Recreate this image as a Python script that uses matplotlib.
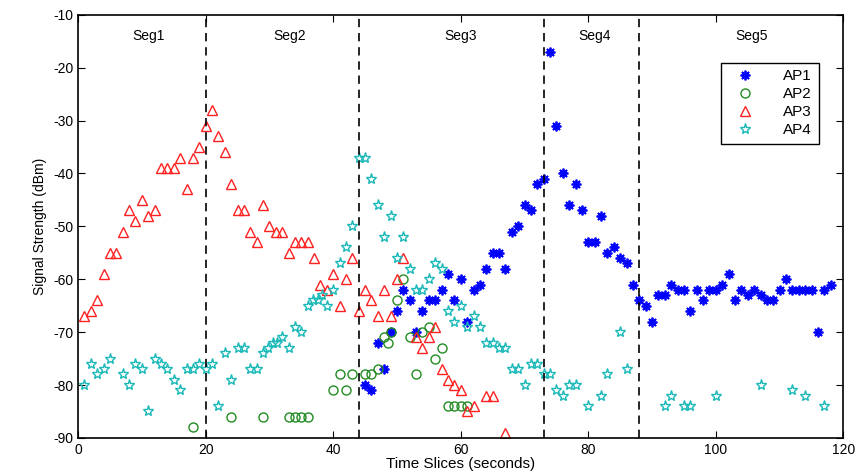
import matplotlib
matplotlib.use("Agg")
import matplotlib.pyplot as plt

plt.rcParams['font.family'] = ['Liberation Sans', 'DejaVu Sans']
plt.rcParams['axes.unicode_minus'] = False

# AP1 (blue asterisks)
ap1_x = [45, 46, 47, 48, 49, 50, 51, 52, 53, 54, 55, 56, 57, 58, 59, 60, 61, 62, 63, 64,
         65, 66, 67, 68, 69, 70, 71, 72, 73, 74, 75, 76, 77, 78, 79, 80, 81, 82, 83, 84,
         85, 86, 87, 88, 89, 90, 91, 92, 93, 94, 95, 96, 97, 98, 99, 100, 101, 102, 103, 104,
         105, 106, 107, 108, 109, 110, 111, 112, 113, 114, 115, 116, 117, 118]
ap1_y = [-80, -81, -72, -77, -70, -66, -62, -64, -70, -66, -64, -64, -62, -59, -64, -60, -68, -62, -61, -58,
         -55, -55, -58, -51, -50, -46, -47, -42, -41, -17, -31, -40, -46, -42, -47, -53, -53, -48, -55, -54,
         -56, -57, -61, -64, -65, -68, -63, -63, -61, -62, -62, -66, -62, -64, -62, -62, -61, -59, -64, -62,
         -63, -62, -63, -64, -64, -62, -60, -62, -62, -62, -62, -70, -62, -61]

# AP2 (green circles)
ap2_x = [18, 24, 29, 33, 34, 35, 36, 40, 41, 42, 43, 45, 46, 47, 48, 48.6, 49, 50, 51, 52,
         53, 54, 55, 56, 57, 58, 59, 60, 61]
ap2_y = [-88, -86, -86, -86, -86, -86, -86, -81, -78, -81, -78, -78, -78, -77, -71, -72, -70, -64, -60, -71,
         -78, -70, -69, -75, -73, -84, -84, -84, -84]

# AP3 (red triangles)
ap3_x = [1, 2, 3, 4, 5, 6, 7, 8, 9, 10, 11, 12, 13, 14, 15, 16, 17, 18, 19, 20,
         21, 22, 23, 24, 25, 26, 27, 28, 29, 30, 31, 32, 33, 34, 35, 36, 37, 38, 39, 40,
         41, 42, 43, 44, 45, 46, 47, 48, 49, 50, 51, 53, 54, 55, 56, 57, 58, 59, 60, 61,
         62, 64, 65, 67]
ap3_y = [-67, -66, -64, -59, -55, -55, -51, -47, -49, -45, -48, -47, -39, -39, -39, -37, -43, -37, -35, -31,
         -28, -33, -36, -42, -47, -47, -51, -53, -46, -50, -51, -51, -55, -53, -53, -53, -56, -61, -62, -59,
         -65, -60, -56, -66, -62, -64, -67, -62, -67, -60, -56, -71, -73, -71, -69, -77, -79, -80, -81, -85,
         -84, -82, -82, -89]

# AP4 (cyan stars)
ap4_x = [1, 2, 3, 4, 5, 7, 8, 9, 10, 11, 12, 13, 14, 15, 16, 17, 18, 19, 20, 21,
         22, 23, 24, 25, 26, 27, 28, 29, 29.8, 30.6, 31.2, 32, 33, 34, 35, 36, 36.8, 37.6, 38.2, 39,
         40, 41, 42, 43, 44, 45, 46, 47, 48, 49, 50, 51, 52, 53, 54, 55, 56, 57, 58, 59,
         60, 61, 62, 63, 64, 65, 66, 67, 68, 69, 70, 71, 72, 73, 74, 75, 76, 77, 78, 80,
         82, 83, 85, 86, 92, 93, 95, 96, 100, 107, 112, 114, 117]
ap4_y = [-80, -76, -78, -77, -75, -78, -80, -76, -77, -85, -75, -76, -77, -79, -81, -77, -77, -76, -77, -76,
         -84, -74, -79, -73, -73, -77, -77, -74, -73, -72, -72, -71, -73, -69, -70, -65, -64, -64, -63, -65,
         -62, -57, -54, -50, -37, -37, -41, -46, -52, -48, -56, -52, -58, -62, -62, -60, -57, -58, -66, -68,
         -65, -69, -67, -69, -72, -72, -73, -73, -77, -77, -80, -76, -76, -78, -78, -81, -82, -80, -80, -84,
         -82, -78, -70, -77, -84, -82, -84, -84, -82, -80, -81, -82, -84]

seg_bounds = [20, 44, 73, 88]
seg_names = ['Seg1', 'Seg2', 'Seg3', 'Seg4', 'Seg5']
seg_pos = [11, 33.2, 60, 81, 105.6]

fig = plt.figure(figsize=(8.58, 4.76), dpi=100)
ax = fig.add_axes([0.091, 0.080, 0.892, 0.889])

ax.plot(ap1_x, ap1_y, linestyle='none', marker=(8, 2, 0), ms=7, mew=1.3,
        color='#0000ff', label='AP1')
ax.plot(ap2_x, ap2_y, linestyle='none', marker='o', ms=6.5, mew=1.0, mfc='none',
        color='#228b22', label='AP2')
ax.plot(ap3_x, ap3_y, linestyle='none', marker='^', ms=7, mew=1.0, mfc='none',
        color='#ff2020', label='AP3')
ax.plot(ap4_x, ap4_y, linestyle='none', marker='*', ms=8, mew=1.0, mfc='none',
        color='#1ab8b8', label='AP4')

for b in seg_bounds:
    ax.axvline(b, color='black', linestyle=(0, (5, 3.5)), lw=1.2)
for name, p in zip(seg_names, seg_pos):
    ax.text(p, -14.0, name, ha='center', va='center', fontsize=10)

ax.set_xlim(0, 120)
ax.set_ylim(-90, -10)
ax.set_xticks(range(0, 121, 20))
ax.set_yticks(range(-90, -9, 10))
ax.tick_params(direction='in', top=True, right=True, labelsize=10, length=5)
ax.set_xlabel('Time Slices (seconds)', fontsize=11, labelpad=0)
ax.set_ylabel('Signal Strength (dBm)', fontsize=10)
for s in ax.spines.values():
    s.set_linewidth(1.2)

leg = ax.legend(loc='upper right', bbox_to_anchor=(0.978, 0.905), fontsize=11,
                fancybox=False, framealpha=1, edgecolor='black', handletextpad=1.4,
                borderpad=0.45, labelspacing=0.25, handlelength=2.2)
leg.get_frame().set_linewidth(1.0)

fig.savefig('out.png', dpi=100)
